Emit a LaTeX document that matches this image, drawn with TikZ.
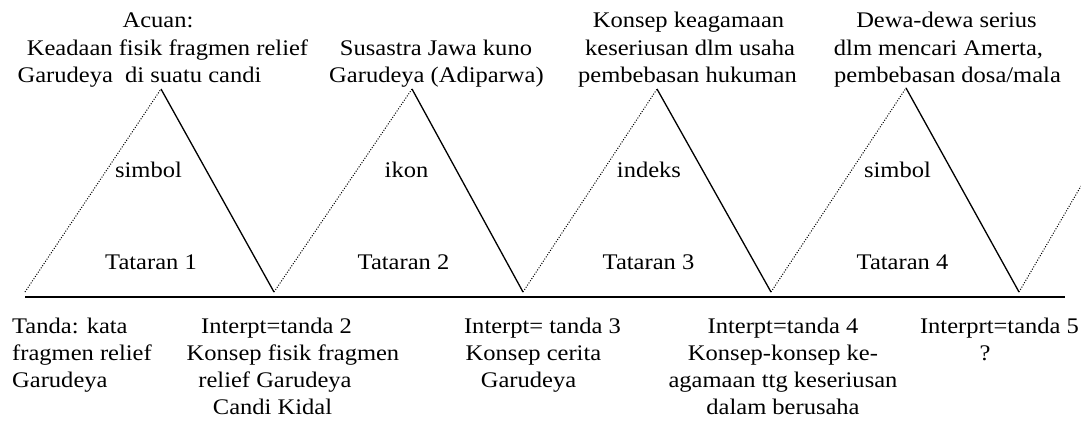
\documentclass[tikz,border=0pt]{standalone}
\usepackage{fontspec}
\setmainfont{Liberation Serif}[FakeStretch=1.1]
\begin{document}
\begin{tikzpicture}[x=1pt,y=-1pt,
  lbl/.style={anchor=base,inner sep=0pt,font=\fontsize{22.3}{27}\selectfont},
  lbll/.style={anchor=base west,inner sep=0pt,font=\fontsize{22.3}{27}\selectfont},
  dotline/.style={line width=1pt,dash pattern=on 1pt off 1.6pt},
  solline/.style={line width=1.3pt},
  baseline/.style={line width=1.7pt}]
\useasboundingbox (0,0) rectangle (1081,424);
% points
\coordinate (b0) at (25,292);
\coordinate (a1) at (161,89);
\coordinate (b1) at (274,292);
\coordinate (a2) at (412,89);
\coordinate (b2) at (523,292);
\coordinate (a3) at (657,89);
\coordinate (b3) at (771,292);
\coordinate (a4) at (906,88);
\coordinate (b4) at (1019,292);
\coordinate (e5) at (1081,186);
\coordinate (L) at (25,297);
\coordinate (R) at (1065,297);
% lines
\draw[baseline] (L) -- (R);
\draw[dotline] (b0) -- (a1);
\draw[dotline] (b1) -- (a2);
\draw[dotline] (b2) -- (a3);
\draw[dotline] (b3) -- (a4);
\draw[dotline] (b4) -- (e5);
\draw[solline] (a1) -- (b1);
\draw[solline] (a2) -- (b2);
\draw[solline] (a3) -- (b3);
\draw[solline] (a4) -- (b4);
% top texts
\node[lbl] (t1a) at (158,27) {Acuan:};
\node[lbl] (t1b) at (167.5,55) {Keadaan fisik fragmen relief};
\node[lbl] (t1c) at (139.5,82) {Garudeya\ \ di suatu candi};
\node[lbl] (t2a) at (436,55) {Susastra Jawa kuno};
\node[lbl] (t2b) at (436.5,82) {Garudeya (Adiparwa)};
\node[lbl] (t3a) at (688.5,27) {Konsep keagamaan};
\node[lbl] (t3b) at (690,55) {keseriusan dlm usaha};
\node[lbl] (t3c) at (687.5,82) {pembebasan hukuman};
\node[lbl] (t4a) at (946.5,27) {Dewa-dewa serius};
\node[lbl] (t4b) at (938.5,55) {dlm mencari Amerta,};
\node[lbl] (t4c) at (947.5,82) {pembebasan dosa/mala};
% middle texts
\node[lbl] (m1) at (148.5,177) {simbol};
\node[lbl] (m2) at (406.5,177) {ikon};
\node[lbl] (m3) at (649,177) {indeks};
\node[lbl] (m4) at (897.5,177) {simbol};
\node[lbl] (s1) at (151,269) {Tataran 1};
\node[lbl] (s2) at (403.5,269) {Tataran 2};
\node[lbl] (s3) at (648.5,269) {Tataran 3};
\node[lbl] (s4) at (902.5,269) {Tataran 4};
% bottom texts
\node[lbll] (u1a) at (12,333) {Tanda: kata};
\node[lbll] (u1b) at (12,360) {fragmen relief};
\node[lbll] (u1c) at (12,387) {Garudeya};
\node[lbl] (u2a) at (276.5,333) {Interpt=tanda 2};
\node[lbl] (u2b) at (293,360) {Konsep fisik fragmen};
\node[lbl] (u2c) at (275,387) {relief Garudeya};
\node[lbl] (u2d) at (272.5,414) {Candi Kidal};
\node[lbl] (u3a) at (542.5,333) {Interpt= tanda 3};
\node[lbl] (u3b) at (533.5,360) {Konsep cerita};
\node[lbl] (u3c) at (528.5,387) {Garudeya};
\node[lbl] (u4a) at (783,333) {Interpt=tanda 4};
\node[lbl] (u4b) at (783,360) {Konsep-konsep ke-};
\node[lbl] (u4c) at (783,387) {agamaan ttg keseriusan};
\node[lbl] (u4d) at (783,414) {dalam berusaha};
\node[lbl] (u5a) at (999.5,333) {Interprt=tanda 5};
\node[lbl] (u5b) at (985,360) {?};
\end{tikzpicture}
\end{document}
